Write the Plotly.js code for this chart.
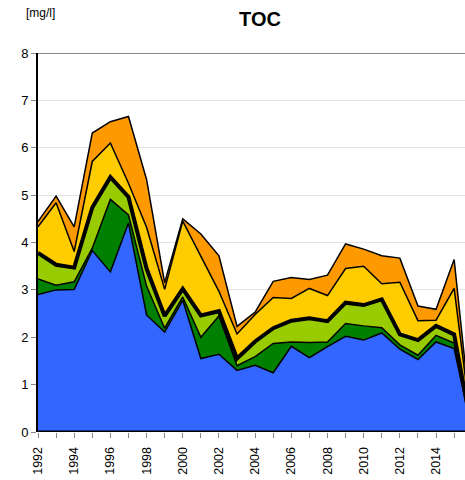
<!DOCTYPE html>
<html>
<head>
<meta charset="utf-8">
<script src="https://cdn.plot.ly/plotly-3.0.1.min.js"></script>
<style>
html,body{margin:0;padding:0;background:#fff;}
#chart{width:465px;height:480px;}
</style>
</head>
<body>
<div id="chart"></div>
<script>
const years = [1992,1993,1994,1995,1996,1997,1998,1999,2000,2001,2002,2003,2004,2005,2006,2007,2008,2009,2010,2011,2012,2013,2014,2015,2016];
const blue = [2.90,3.00,3.01,3.83,3.38,4.41,2.47,2.11,2.78,1.55,1.64,1.30,1.41,1.25,1.81,1.57,1.80,2.02,1.94,2.09,1.75,1.53,1.90,1.76,0];
const darkGreen = [0.33,0.10,0.16,0.05,1.53,0.17,0.61,0.08,0.07,0.45,0.81,0.10,0.18,0.62,0.09,0.32,0.10,0.27,0.30,0.11,0.09,0.09,0.14,0.12,0];
const lightGreen = [0.55,0.43,0.30,0.86,0.47,0.38,0.37,0.26,0.17,0.46,0.10,0.15,0.32,0.32,0.45,0.51,0.44,0.44,0.44,0.60,0.22,0.32,0.20,0.18,0];
const yellow = [0.55,1.31,0.34,0.97,0.72,0.29,0.87,0.56,1.43,1.24,0.42,0.52,0.57,0.65,0.47,0.63,0.54,0.72,0.82,0.33,1.10,0.41,0.12,0.97,0];
const orange = [0.11,0.14,0.52,0.60,0.45,1.41,1.01,0.14,0.05,0.48,0.75,0.16,0.05,0.34,0.44,0.19,0.43,0.52,0.36,0.59,0.51,0.31,0.23,0.61,0];
const xTickVals = [1992,1994,1996,1998,2000,2002,2004,2006,2008,2010,2012,2014];
const xTickText = ['1992','1994','1996','1998','2000','2002','2004','2006','2008','2010','2012','2014'];

const series = [
  {y: blue, color: '#3366ff', lw: 1.5},
  {y: darkGreen, color: '#008000', lw: 1.5},
  {y: lightGreen, color: '#99cc00', lw: 4},
  {y: yellow, color: '#ffcc00', lw: 1.5},
  {y: orange, color: '#ff9900', lw: 1.5}
];

const traces = series.map(s => ({
  type: 'scatter',
  mode: 'lines',
  x: years,
  y: s.y,
  stackgroup: 'one',
  fillcolor: s.color,
  line: {color: '#000', width: s.lw, shape: 'linear'},
  hoverinfo: 'skip',
  showlegend: false
}));

const layout = {
  width: 465,
  height: 480,
  margin: {l: 38, r: 0, t: 53, b: 48},
  paper_bgcolor: '#fff',
  plot_bgcolor: '#fff',
  font: {family: 'Liberation Sans, Arial, sans-serif', size: 13, color: '#000'},
  title: {text: '<b>TOC</b>', font: {size: 20, color: '#000'}, x: 260/465, xanchor: 'center', y: 1 - 19/480, yanchor: 'middle'},
  showlegend: false,
  hovermode: false,
  xaxis: {
    range: [1992, 2015.6],
    tickvals: xTickVals,
    ticktext: xTickText,
    tickangle: -90,
    ticks: 'outside',
    ticklen: 5,
    tickcolor: '#888',
    ticklabelstandoff: 4,
    showgrid: false,
    zeroline: false,
    showline: false,
    minor: {dtick: 1, tick0: 1992, ticks: 'outside', ticklen: 5, tickcolor: '#888', showgrid: false},
    tickfont: {size: 12.5}
  },
  yaxis: {
    range: [0, 8],
    dtick: 1,
    ticks: 'outside',
    ticklen: 5,
    tickcolor: '#888',
    showgrid: true,
    gridcolor: '#e3e3e3',
    gridwidth: 1,
    zeroline: false,
    showline: true,
    linecolor: '#000',
    linewidth: 2,
    tickfont: {size: 13}
  },
  shapes: [
    {type: 'line', xref: 'paper', yref: 'y', x0: 0, x1: 1, y0: 8, y1: 8, line: {color: '#8a8a8a', width: 2}},
    {type: 'line', xref: 'paper', yref: 'y', x0: 0, x1: 1, y0: 0, y1: 0, line: {color: '#000', width: 3}}
  ],
  annotations: [
    {text: '[mg/l]', xref: 'paper', yref: 'paper', x: -0.033, y: 1 + 40/379, xanchor: 'left', yanchor: 'middle', showarrow: false, font: {size: 12, color: '#000'}}
  ]
};

Plotly.newPlot('chart', traces, layout, {displayModeBar: false, staticPlot: true});
</script>
</body>
</html>
